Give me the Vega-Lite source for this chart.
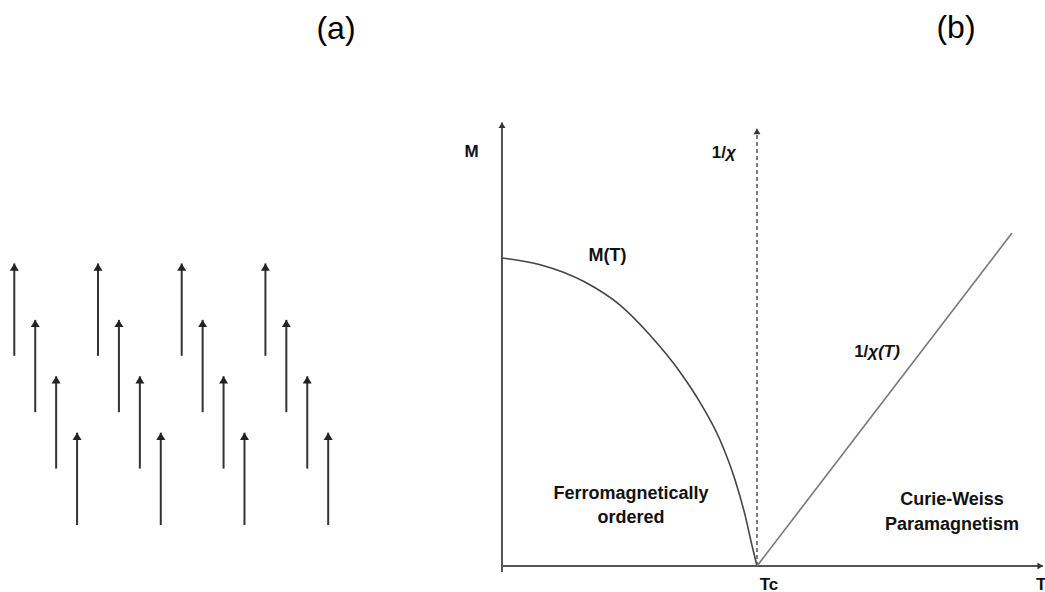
{
  "$schema": "https://vega.github.io/schema/vega-lite/v6.json",
  "padding": 0,
  "background": "white",
  "spacing": 0,
  "bounds": "flush",
  "config": {
    "view": {"stroke": null},
    "text": {"font": "Liberation Sans", "color": "#111"}
  },
  "datasets": {
    "spins": [
      {"x": 0, "tail": 3, "head": 4.637},
      {"x": 1, "tail": 3, "head": 4.637},
      {"x": 2, "tail": 3, "head": 4.637},
      {"x": 3, "tail": 3, "head": 4.637},
      {"x": 0.25, "tail": 2, "head": 3.637},
      {"x": 1.25, "tail": 2, "head": 3.637},
      {"x": 2.25, "tail": 2, "head": 3.637},
      {"x": 3.25, "tail": 2, "head": 3.637},
      {"x": 0.5, "tail": 1, "head": 2.637},
      {"x": 1.5, "tail": 1, "head": 2.637},
      {"x": 2.5, "tail": 1, "head": 2.637},
      {"x": 3.5, "tail": 1, "head": 2.637},
      {"x": 0.75, "tail": 0, "head": 1.637},
      {"x": 1.75, "tail": 0, "head": 1.637},
      {"x": 2.75, "tail": 0, "head": 1.637},
      {"x": 3.75, "tail": 0, "head": 1.637}
    ],
    "axes_b": [
      {"T": 0, "T2": 0, "M": -0.0195, "M2": 1.44},
      {"T": 0, "T2": 2.1216, "M": 0, "M2": 0}
    ],
    "tc_marker": [
      {"T": 1, "M": 0, "M2": 1.42}
    ],
    "heads_up": [
      {"T": 0, "M": 1.44},
      {"T": 1, "M": 1.42}
    ],
    "heads_right": [
      {"T": 2.1216, "M": 0}
    ],
    "magnetization": [
      {"T": 0, "M": 1.0},
      {"T": 0.15, "M": 0.978},
      {"T": 0.325, "M": 0.922},
      {"T": 0.463, "M": 0.847},
      {"T": 0.58, "M": 0.75},
      {"T": 0.698, "M": 0.63},
      {"T": 0.776, "M": 0.532},
      {"T": 0.855, "M": 0.409},
      {"T": 0.914, "M": 0.279},
      {"T": 0.953, "M": 0.166},
      {"T": 0.98, "M": 0.068},
      {"T": 1.0, "M": 0}
    ],
    "inverse_chi": [
      {"T": 1.0, "M": 0},
      {"T": 2.0, "M": 1.081}
    ],
    "region_labels": [
      {"T": 0.4137, "M": 0.9912, "label": "M(T)"},
      {"T": 0.5059, "M": 0.2175, "label": "Ferromagnetically"},
      {"T": 0.5059, "M": 0.1396, "label": "ordered"},
      {"T": 1.7647, "M": 0.198, "label": "Curie-Weiss"},
      {"T": 1.7647, "M": 0.1169, "label": "Paramagnetism"}
    ],
    "prefix_labels": [
      {"T": 0.8784, "M": 1.3247, "label": "1/"},
      {"T": 1.4366, "M": 0.6795, "label": "1/"}
    ],
    "chi_labels": [
      {"T": 0.8784, "M": 1.3247, "label": "χ"},
      {"T": 1.4366, "M": 0.6795, "label": "χ(T)"}
    ]
  },
  "hconcat": [
    {
      "width": 380,
      "height": 592,
      "encoding": {
        "x": {"field": "x", "type": "quantitative", "scale": {"domain": [-0.1708, 4.369], "nice": false, "zero": false}, "axis": null}
      },
      "layer": [
        {
          "data": {"name": "spins"},
          "mark": {"type": "rule", "color": "#333", "strokeWidth": 2},
          "encoding": {
            "y": {"field": "tail", "type": "quantitative", "scale": {"domain": [-1.188, 9.309], "nice": false, "zero": false}, "axis": null},
            "y2": {"field": "head"}
          }
        },
        {
          "data": {"name": "spins"},
          "mark": {"type": "point", "shape": "M0,0L-1,1.6L1,1.6Z", "filled": true, "size": 81, "color": "#222", "opacity": 1},
          "encoding": {
            "y": {"field": "head", "type": "quantitative", "axis": null}
          }
        },
        {
          "data": {"values": [{"x": 3.843, "y": 8.626, "label": "(a)"}]},
          "mark": {"type": "text", "fontSize": 32, "align": "center", "baseline": "alphabetic", "color": "#000"},
          "encoding": {
            "y": {"field": "y", "type": "quantitative", "axis": null},
            "text": {"field": "label"}
          }
        }
      ]
    },
    {
      "width": 665,
      "height": 592,
      "encoding": {
        "x": {"field": "T", "type": "quantitative", "scale": {"domain": [-0.4784, 2.1294], "nice": false, "zero": false}, "axis": null},
        "y": {"field": "M", "type": "quantitative", "scale": {"domain": [-0.0844, 1.8377], "nice": false, "zero": false}, "axis": null}
      },
      "layer": [
        {
          "data": {"name": "axes_b"},
          "mark": {"type": "rule", "color": "#555", "strokeWidth": 2},
          "encoding": {"x2": {"field": "T2"}, "y2": {"field": "M2"}}
        },
        {
          "data": {"name": "tc_marker"},
          "mark": {"type": "rule", "color": "#555", "strokeWidth": 1.5, "strokeDash": [4, 3]},
          "encoding": {"y2": {"field": "M2"}}
        },
        {
          "data": {"name": "heads_up"},
          "mark": {"type": "point", "shape": "M0,0L-1,1.6L1,1.6Z", "filled": true, "size": 49, "color": "#333", "opacity": 1},
          "encoding": {}
        },
        {
          "data": {"name": "heads_right"},
          "mark": {"type": "point", "shape": "M0,0L-1.6,-1L-1.6,1Z", "filled": true, "size": 49, "color": "#333", "opacity": 1},
          "encoding": {}
        },
        {
          "data": {"name": "magnetization"},
          "mark": {"type": "line", "color": "#444", "strokeWidth": 1.6, "interpolate": "monotone"},
          "encoding": {}
        },
        {
          "data": {"name": "inverse_chi"},
          "mark": {"type": "line", "color": "#777", "strokeWidth": 1.6},
          "encoding": {}
        },
        {
          "data": {"name": "region_labels"},
          "mark": {"type": "text", "fontSize": 18, "fontWeight": "bold", "align": "center", "baseline": "alphabetic"},
          "encoding": {"text": {"field": "label"}}
        },
        {
          "data": {"values": [{"T": -0.1188, "M": 1.3289, "label": "M"}]},
          "mark": {"type": "text", "fontSize": 17, "fontWeight": "bold", "align": "center", "baseline": "alphabetic"},
          "encoding": {"text": {"field": "label"}}
        },
        {
          "data": {"name": "prefix_labels"},
          "mark": {"type": "text", "fontSize": 17, "fontWeight": "bold", "align": "right", "baseline": "alphabetic"},
          "encoding": {"text": {"field": "label"}}
        },
        {
          "data": {"name": "chi_labels"},
          "mark": {"type": "text", "fontSize": 17, "fontWeight": "bold", "fontStyle": "italic", "align": "left", "baseline": "alphabetic"},
          "encoding": {"text": {"field": "label"}}
        },
        {
          "data": {"values": [{"T": 1.047, "M": -0.0779, "label": "Tc"}]},
          "mark": {"type": "text", "fontSize": 17, "fontWeight": "bold", "align": "center", "baseline": "alphabetic"},
          "encoding": {"text": {"field": "label"}}
        },
        {
          "data": {"values": [{"T": 2.094, "M": -0.0779, "label": "T"}]},
          "mark": {"type": "text", "fontSize": 17, "fontWeight": "bold", "align": "left", "baseline": "alphabetic"},
          "encoding": {"text": {"field": "label"}}
        },
        {
          "data": {"values": [{"T": 1.7804, "M": 1.7127, "label": "(b)"}]},
          "mark": {"type": "text", "fontSize": 32, "align": "center", "baseline": "alphabetic", "color": "#000"},
          "encoding": {"text": {"field": "label"}}
        }
      ]
    }
  ]
}
